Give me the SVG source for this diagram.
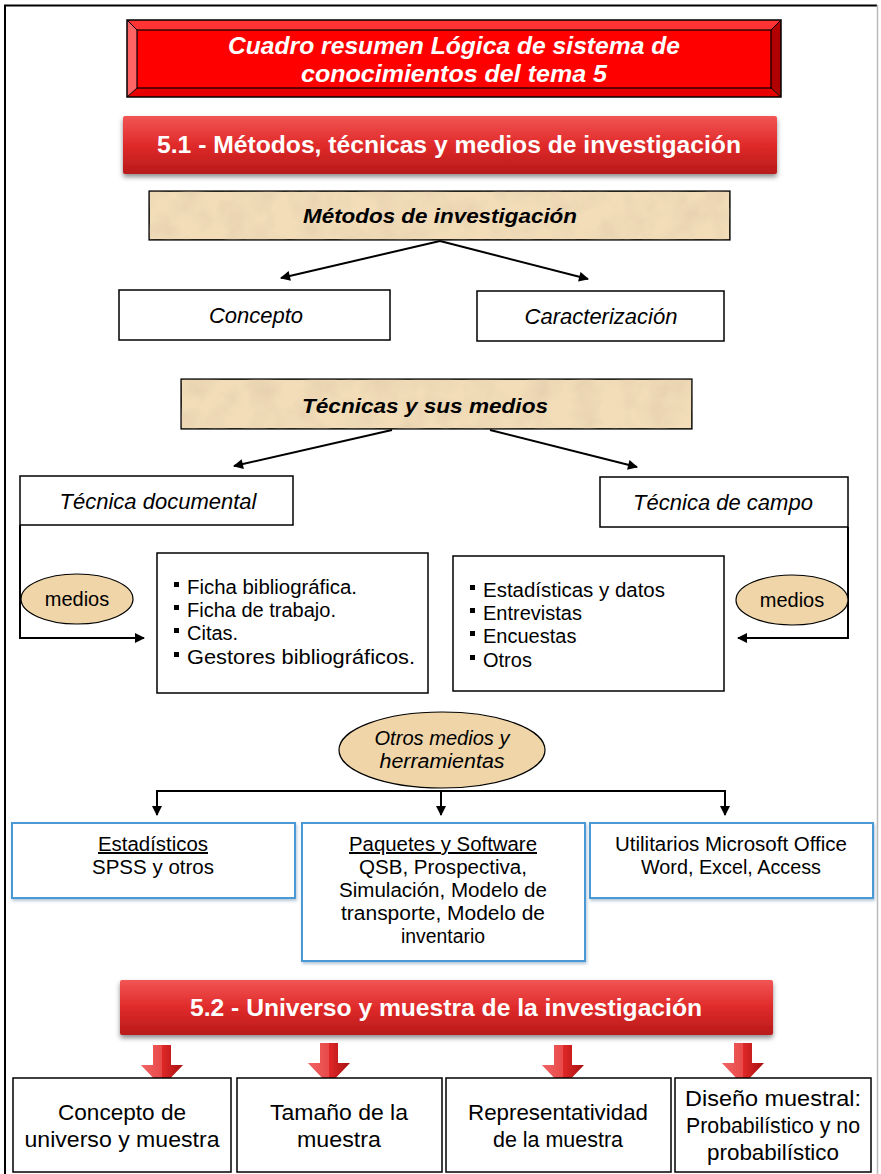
<svg xmlns="http://www.w3.org/2000/svg" width="881" height="1174" viewBox="0 0 881 1174">
<defs>
<linearGradient id="redg" x1="0" y1="0" x2="0" y2="1">
<stop offset="0" stop-color="#F25555"/>
<stop offset="0.5" stop-color="#E02A2A"/>
<stop offset="1" stop-color="#B81A1A"/>
</linearGradient>
<linearGradient id="arrg" x1="0" y1="0" x2="1" y2="0">
<stop offset="0" stop-color="#F06060"/>
<stop offset="0.5" stop-color="#E02828"/>
<stop offset="1" stop-color="#A81010"/>
</linearGradient>
<filter id="shadow" x="-5%" y="-20%" width="110%" height="150%">
<feDropShadow dx="0" dy="3" stdDeviation="2.5" flood-color="#000" flood-opacity="0.45"/>
</filter>
<filter id="bshadow" x="-5%" y="-10%" width="110%" height="130%">
<feDropShadow dx="1" dy="2" stdDeviation="1.5" flood-color="#6A8FB0" flood-opacity="0.5"/>
</filter>
<filter id="paper" x="0" y="0" width="100%" height="100%">
<feTurbulence type="fractalNoise" baseFrequency="0.04" numOctaves="3" seed="4" result="n"/>
<feColorMatrix in="n" type="matrix" values="0 0 0 0 0.80  0 0 0 0 0.64  0 0 0 0 0.44  0 0 0 2 -0.8" result="c"/>
<feComposite in="c" in2="SourceGraphic" operator="in" result="t"/>
<feMerge><feMergeNode in="SourceGraphic"/><feMergeNode in="t"/></feMerge>
</filter>
<marker id="ah" viewBox="0 0 10 10" refX="9" refY="5" markerWidth="12" markerHeight="10" markerUnits="userSpaceOnUse" orient="auto">
<path d="M0,0 L10,5 L0,10 z" fill="#000"/>
</marker>
<symbol id="redarrow" viewBox="0 0 42 42" overflow="visible">
<path d="M12,0 H30 V20 H42 L21,42 L0,20 H12 Z" fill="url(#arrg)"/>
<path d="M12,0 H21 V42 L0,20 H12 Z" fill="#F26A6A" opacity="0.5"/>
</symbol>
</defs>
<style>
text { font-family: "Liberation Sans", Arial, sans-serif; fill: #000; }
.box { fill: #fff; stroke: #000; stroke-width: 1.5; }
.bbox { fill: #fff; stroke: #4A9AD4; stroke-width: 2; }
.tan { fill: #F2DDB8; stroke: #000; stroke-width: 1.2; }
.ell { fill: #EFD5A8; stroke: #000; stroke-width: 1.2; }
.wh { fill: #fff; font-weight: bold; }
.it { font-style: italic; }
.c { text-anchor: middle; }
.li { font-size: 20px; }
.bt { font-size: 20px; }
.ft { font-size: 22px; }
.bul { fill: #000; }
.conn { fill: none; stroke: #000; stroke-width: 2; }
</style>

<rect width="881" height="1174" fill="#fff"/>
<!-- page frame -->
<path d="M5,1174 V5.5 H877" fill="none" stroke="#000" stroke-width="2"/>
<line x1="877.5" y1="5" x2="877.5" y2="1174" stroke="#BBBBBB" stroke-width="1.5"/>

<g id="title">
<polygon points="127,20 781,20 771,30 137,30" fill="#FF3333"/>
<polygon points="127,20 137,30 137,88 127,97" fill="#FF6464"/>
<polygon points="781,20 781,97 771,88 771,30" fill="#B00000"/>
<polygon points="127,97 137,88 771,88 781,97" fill="#E60000"/>
<rect x="137" y="30" width="634" height="58" fill="#FF0000" stroke="#000" stroke-width="1.2"/>
<rect x="127" y="20" width="654" height="77" fill="none" stroke="#000" stroke-width="1.5"/>
<path d="M127,20 L137,30 M781,20 L771,30 M127,97 L137,88 M781,97 L771,88" stroke="#000" stroke-width="1"/>
<text class="wh it c" x="454" y="54" font-size="23" textLength="452" lengthAdjust="spacingAndGlyphs">Cuadro resumen Lógica de sistema de</text>
<text class="wh it c" x="454" y="82" font-size="23" textLength="306" lengthAdjust="spacingAndGlyphs">conocimientos del tema 5</text>
</g>

<g id="h51">
<rect x="123" y="116" width="654" height="58" rx="2" fill="url(#redg)" filter="url(#shadow)"/>
<text class="wh c" x="449" y="153" font-size="23" textLength="584" lengthAdjust="spacingAndGlyphs">5.1 - Métodos, técnicas y medios de investigación</text>
</g>

<g id="metodos">
<rect class="tan" x="149" y="191" width="581" height="49" filter="url(#paper)"/>
<rect x="149" y="191" width="581" height="49" fill="none" stroke="#000" stroke-width="1.2"/>
<text class="it c" x="440" y="223" font-size="20" font-weight="bold" textLength="274" lengthAdjust="spacingAndGlyphs">Métodos de investigación</text>
</g>

<g id="concepto">
<rect class="box" x="119" y="290" width="271" height="50"/>
<text class="it c" x="256" y="323" font-size="22">Concepto</text>
</g>

<g id="caracterizacion">
<rect class="box" x="477" y="291" width="247" height="50"/>
<text class="it c" x="601" y="324" font-size="22">Caracterización</text>
</g>

<g id="tecnicas">
<rect class="tan" x="181" y="379" width="511" height="50" filter="url(#paper)"/>
<rect x="181" y="379" width="511" height="50" fill="none" stroke="#000" stroke-width="1.2"/>
<text class="it c" x="425" y="413" font-size="20" font-weight="bold" textLength="246" lengthAdjust="spacingAndGlyphs">Técnicas y sus medios</text>
</g>

<g id="tec-doc">
<rect class="box" x="20" y="476" width="273" height="49"/>
<text class="it c" x="158" y="509" font-size="22">Técnica documental</text>
</g>

<g id="tec-campo">
<rect class="box" x="600" y="477" width="248" height="50"/>
<text class="it c" x="723" y="510" font-size="22">Técnica de campo</text>
</g>

<g id="list-doc">
<rect class="box" x="157" y="553" width="271" height="140"/>
<rect class="bul" x="174" y="582" width="5" height="5"/>
<rect class="bul" x="174" y="605" width="5" height="5"/>
<rect class="bul" x="174" y="628" width="5" height="5"/>
<rect class="bul" x="174" y="652" width="5" height="5"/>
<text class="li" x="187" y="594" textLength="170" lengthAdjust="spacingAndGlyphs">Ficha bibliográfica.</text>
<text class="li" x="187" y="617">Ficha de trabajo.</text>
<text class="li" x="187" y="640">Citas.</text>
<text class="li" x="187" y="664" textLength="228" lengthAdjust="spacingAndGlyphs">Gestores bibliográficos.</text>
</g>

<g id="list-campo">
<rect class="box" x="453" y="556" width="271" height="135"/>
<rect class="bul" x="470" y="585" width="5" height="5"/>
<rect class="bul" x="470" y="608" width="5" height="5"/>
<rect class="bul" x="470" y="631" width="5" height="5"/>
<rect class="bul" x="470" y="655" width="5" height="5"/>
<text class="li" x="483" y="597" textLength="182" lengthAdjust="spacingAndGlyphs">Estadísticas y datos</text>
<text class="li" x="483" y="620">Entrevistas</text>
<text class="li" x="483" y="643">Encuestas</text>
<text class="li" x="483" y="667">Otros</text>
</g>

<g id="connectors">
<line class="conn" x1="440" y1="241" x2="281" y2="278" marker-end="url(#ah)"/>
<line class="conn" x1="440" y1="241" x2="588" y2="279" marker-end="url(#ah)"/>
<line class="conn" x1="392" y1="430" x2="234" y2="466" marker-end="url(#ah)"/>
<line class="conn" x1="490" y1="430" x2="637" y2="467" marker-end="url(#ah)"/>
<polyline class="conn" points="20,525 20,638 144,638" marker-end="url(#ah)"/>
<polyline class="conn" points="848,527 848,638 738,638" marker-end="url(#ah)"/>
<line class="conn" x1="156" y1="791" x2="726" y2="791"/>
<line class="conn" x1="157" y1="791" x2="157" y2="815" marker-end="url(#ah)"/>
<line class="conn" x1="441" y1="791" x2="441" y2="815" marker-end="url(#ah)"/>
<line class="conn" x1="725" y1="791" x2="725" y2="815" marker-end="url(#ah)"/>
<use href="#redarrow" x="141" y="1045" width="42" height="42"/>
<use href="#redarrow" x="308" y="1043" width="42" height="42"/>
<use href="#redarrow" x="542" y="1045" width="42" height="42"/>
<use href="#redarrow" x="722" y="1043" width="42" height="42"/>
</g>

<g id="medios-left">
<ellipse class="ell" cx="77" cy="599" rx="56" ry="25"/>
<text class="c" x="77" y="606" font-size="20">medios</text>
</g>

<g id="medios-right">
<ellipse class="ell" cx="792" cy="600" rx="56" ry="25"/>
<text class="c" x="792" y="607" font-size="20">medios</text>
</g>

<g id="otros">
<ellipse class="ell" cx="442" cy="750" rx="103" ry="38"/>
<text class="it c" x="442" y="745" font-size="20" textLength="135" lengthAdjust="spacingAndGlyphs">Otros medios y</text>
<text class="it c" x="442" y="768" font-size="20" textLength="125" lengthAdjust="spacingAndGlyphs">herramientas</text>
</g>

<g id="estadisticos">
<rect class="bbox" x="12" y="823" width="283" height="75" filter="url(#bshadow)"/>
<text class="bt c" x="153" y="851" text-decoration="underline" textLength="110" lengthAdjust="spacingAndGlyphs">Estadísticos</text>
<text class="bt c" x="153" y="874" textLength="122" lengthAdjust="spacingAndGlyphs">SPSS y otros</text>
</g>

<g id="paquetes">
<rect class="bbox" x="302" y="823" width="283" height="138" filter="url(#bshadow)"/>
<text class="bt c" x="443" y="851" text-decoration="underline" textLength="188" lengthAdjust="spacingAndGlyphs">Paquetes y Software</text>
<text class="bt c" x="443" y="874" textLength="168" lengthAdjust="spacingAndGlyphs">QSB, Prospectiva,</text>
<text class="bt c" x="443" y="897" textLength="208" lengthAdjust="spacingAndGlyphs">Simulación, Modelo de</text>
<text class="bt c" x="443" y="920" textLength="204" lengthAdjust="spacingAndGlyphs">transporte, Modelo de</text>
<text class="bt c" x="443" y="943" textLength="84" lengthAdjust="spacingAndGlyphs">inventario</text>
</g>

<g id="utilitarios">
<rect class="bbox" x="590" y="823" width="283" height="75" filter="url(#bshadow)"/>
<text class="bt c" x="731" y="851" textLength="232" lengthAdjust="spacingAndGlyphs">Utilitarios Microsoft Office</text>
<text class="bt c" x="731" y="874" textLength="180" lengthAdjust="spacingAndGlyphs">Word, Excel, Access</text>
</g>

<g id="h52">
<rect x="120" y="980" width="653" height="55" rx="2" fill="url(#redg)" filter="url(#shadow)"/>
<text class="wh c" x="446" y="1016" font-size="23" textLength="512" lengthAdjust="spacingAndGlyphs">5.2 - Universo y muestra de la investigación</text>
</g>

<g id="b1">
<rect class="box" x="13" y="1078" width="218" height="94"/>
<text class="ft c" x="122" y="1120" textLength="128" lengthAdjust="spacingAndGlyphs">Concepto de</text>
<text class="ft c" x="122" y="1147" textLength="195" lengthAdjust="spacingAndGlyphs">universo y muestra</text>
</g>
<g id="b2">
<rect class="box" x="237" y="1078" width="205" height="94"/>
<text class="ft c" x="339" y="1120" textLength="138" lengthAdjust="spacingAndGlyphs">Tamaño de la</text>
<text class="ft c" x="339" y="1147" textLength="84" lengthAdjust="spacingAndGlyphs">muestra</text>
</g>
<g id="b3">
<rect class="box" x="446" y="1078" width="225" height="94"/>
<text class="ft c" x="558" y="1120" textLength="180" lengthAdjust="spacingAndGlyphs">Representatividad</text>
<text class="ft c" x="558" y="1147" textLength="130" lengthAdjust="spacingAndGlyphs">de la muestra</text>
</g>
<g id="b4">
<rect class="box" x="675" y="1078" width="196" height="94"/>
<text class="ft c" x="773" y="1106" textLength="176" lengthAdjust="spacingAndGlyphs">Diseño muestral:</text>
<text class="ft c" x="773" y="1133" textLength="174" lengthAdjust="spacingAndGlyphs">Probabilístico y no</text>
<text class="ft c" x="773" y="1160" textLength="132" lengthAdjust="spacingAndGlyphs">probabilístico</text>
</g>
</svg>
